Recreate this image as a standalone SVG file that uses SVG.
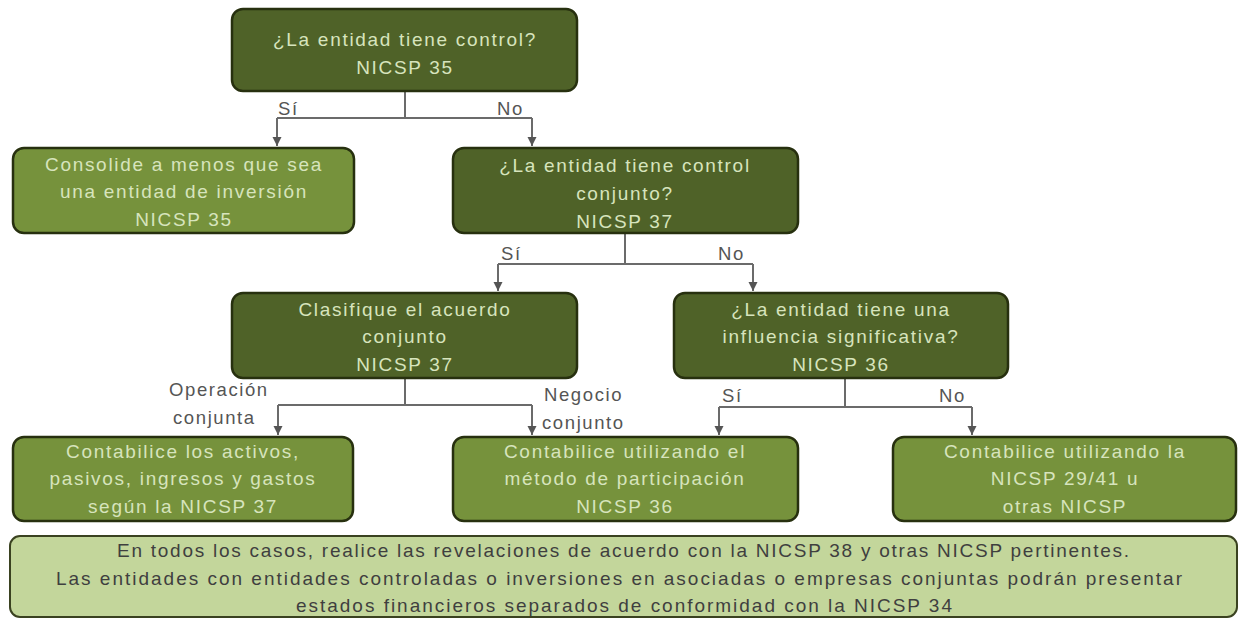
<svg xmlns="http://www.w3.org/2000/svg" width="1240" height="619" viewBox="0 0 1240 619">
<style>
.dark{fill:#4f6228;stroke:#27300f;stroke-width:2.5}
.light{fill:#76923c;stroke:#27300f;stroke-width:2.5}
.note{fill:#c3d69b;stroke:#3a4220;stroke-width:2}
.bt{font-family:"Liberation Sans",Arial,sans-serif;font-size:19px;fill:#d7e4bd;text-anchor:middle;letter-spacing:1.7px}
.lbl{font-family:"Liberation Sans",Arial,sans-serif;font-size:18.5px;fill:#555555;letter-spacing:1.6px}
.nt{font-family:"Liberation Sans",Arial,sans-serif;font-size:19px;fill:#3f3f3f}
.cn{fill:none;stroke:#6b6b6b;stroke-width:2}
</style>
<defs>
<marker id="arr" markerWidth="10" markerHeight="10" refX="9" refY="5" orient="auto" markerUnits="userSpaceOnUse">
<path d="M0,0.5 L9,5 L0,9.5 Z" fill="#555555"/>
</marker>
</defs>
<rect width="1240" height="619" fill="#ffffff"/>
<g id="connectors">
<path class="cn" d="M405,91 V118"/>
<path class="cn" d="M277,118 H532"/>
<path class="cn" d="M277,118 V146" marker-end="url(#arr)"/>
<path class="cn" d="M532,118 V146" marker-end="url(#arr)"/>
<path class="cn" d="M625,233 V264"/>
<path class="cn" d="M498,264 H753"/>
<path class="cn" d="M498,264 V291" marker-end="url(#arr)"/>
<path class="cn" d="M753,264 V291" marker-end="url(#arr)"/>
<path class="cn" d="M405,378 V405"/>
<path class="cn" d="M278,405 H532"/>
<path class="cn" d="M278,405 V435" marker-end="url(#arr)"/>
<path class="cn" d="M532,405 V435" marker-end="url(#arr)"/>
<path class="cn" d="M845,378 V407"/>
<path class="cn" d="M719,407 H972"/>
<path class="cn" d="M719,407 V435" marker-end="url(#arr)"/>
<path class="cn" d="M972,407 V435" marker-end="url(#arr)"/>
<text class="lbl" x="278" y="115">Sí</text>
<text class="lbl" x="497" y="115">No</text>
<text class="lbl" x="501" y="260">Sí</text>
<text class="lbl" x="718" y="260">No</text>
<text class="lbl" x="722" y="402">Sí</text>
<text class="lbl" x="939" y="402">No</text>
<text class="lbl" x="169" y="396">Operación</text>
<text class="lbl" x="173" y="424">conjunta</text>
<text class="lbl" x="544" y="401">Negocio</text>
<text class="lbl" x="542" y="429">conjunto</text>
</g>
<g id="n1">
<rect class="dark" x="232" y="9" width="345" height="82" rx="11"/>
<text class="bt" x="405" y="46">¿La entidad tiene control?</text>
<text class="bt" x="405" y="74">NICSP 35</text>
</g>
<g id="n2">
<rect class="light" x="13" y="148" width="341" height="85" rx="11"/>
<text class="bt" x="184" y="171">Consolide a menos que sea</text>
<text class="bt" x="184" y="198">una entidad de inversión</text>
<text class="bt" x="184" y="226">NICSP 35</text>
</g>
<g id="n3">
<rect class="dark" x="453" y="148" width="345" height="85" rx="11"/>
<text class="bt" x="625" y="172">¿La entidad tiene control</text>
<text class="bt" x="625" y="200">conjunto?</text>
<text class="bt" x="625" y="228">NICSP 37</text>
</g>
<g id="n4">
<rect class="dark" x="232" y="293" width="345" height="85" rx="11"/>
<text class="bt" x="405" y="316">Clasifique el acuerdo</text>
<text class="bt" x="405" y="343">conjunto</text>
<text class="bt" x="405" y="371">NICSP 37</text>
</g>
<g id="n5">
<rect class="dark" x="674" y="293" width="334" height="85" rx="11"/>
<text class="bt" x="841" y="316">¿La entidad tiene una</text>
<text class="bt" x="841" y="343">influencia significativa?</text>
<text class="bt" x="841" y="371">NICSP 36</text>
</g>
<g id="n6">
<rect class="light" x="13" y="437" width="340" height="84" rx="11"/>
<text class="bt" x="183" y="458">Contabilice los activos,</text>
<text class="bt" x="183" y="485">pasivos, ingresos y gastos</text>
<text class="bt" x="183" y="513">según la NICSP 37</text>
</g>
<g id="n7">
<rect class="light" x="453" y="437" width="345" height="84" rx="11"/>
<text class="bt" x="625" y="458">Contabilice utilizando el</text>
<text class="bt" x="625" y="485">método de participación</text>
<text class="bt" x="625" y="513">NICSP 36</text>
</g>
<g id="n8">
<rect class="light" x="893" y="437" width="343" height="84" rx="11"/>
<text class="bt" x="1065" y="458">Contabilice utilizando la</text>
<text class="bt" x="1065" y="485">NICSP 29/41 u</text>
<text class="bt" x="1065" y="513">otras NICSP</text>
</g>
<g id="n9">
<rect class="note" x="10" y="536" width="1227" height="81" rx="10"/>
<text class="nt" x="117" y="557" textLength="1012" lengthAdjust="spacing">En todos los casos, realice las revelaciones de acuerdo con la NICSP 38 y otras NICSP pertinentes.</text>
<text class="nt" x="56" y="585" textLength="1126" lengthAdjust="spacing">Las entidades con entidades controladas o inversiones en asociadas o empresas conjuntas podrán presentar</text>
<text class="nt" x="296" y="612" textLength="656" lengthAdjust="spacing">estados financieros separados de conformidad con la NICSP 34</text>
</g>
</svg>
